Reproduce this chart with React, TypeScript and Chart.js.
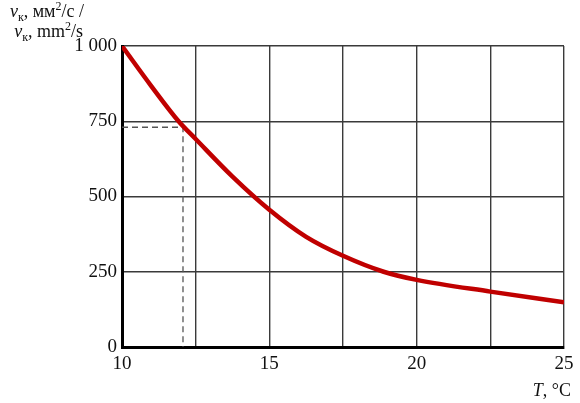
import React, { useEffect, useRef } from "react";
import { Chart, registerables } from "chart.js";

Chart.register(...registerables);

const temperatures = [10, 11, 11.92, 12.5, 13.75, 15, 16.25, 17.5, 18.88, 20, 22.5, 25];
const viscosity = [1000, 866, 750, 691, 566, 456, 366, 303, 250, 223, 184, 149];
const guideT = [10, 12.07, 12.07];
const guideV = [730, 730, 0];
const xTicks = [10, 15, 20, 25];
const yTicks = [0, 250, 500, 750, 1000];

const FONT = "'Liberation Serif', 'Times New Roman', serif";

type Run = { t: string; italic?: boolean; sub?: boolean; sup?: boolean };

function drawRuns(ctx: CanvasRenderingContext2D, runs: Run[], rightX: number, baseY: number, size: number) {
  const fontFor = (r: Run) => {
    const s = r.sub || r.sup ? Math.round(size * 0.65) : size;
    return `${r.italic ? "italic " : ""}${s}px ${FONT}`;
  };
  let total = 0;
  for (const r of runs) {
    ctx.font = fontFor(r);
    total += ctx.measureText(r.t).width;
  }
  let x = rightX - total;
  ctx.textAlign = "left";
  ctx.textBaseline = "alphabetic";
  ctx.fillStyle = "#111";
  for (const r of runs) {
    ctx.font = fontFor(r);
    const dy = r.sub ? size * 0.2 : r.sup ? -size * 0.4 : 0;
    ctx.fillText(r.t, x, baseY + dy);
    x += ctx.measureText(r.t).width;
  }
}

const labelsPlugin = {
  id: "richLabels",
  afterDraw(chart: any) {
    const ctx = chart.ctx as CanvasRenderingContext2D;
    ctx.save();
    drawRuns(ctx, [
      { t: "ν", italic: true }, { t: "к", sub: true }, { t: ", мм" }, { t: "2", sup: true }, { t: "/с /" },
    ], 84, 17, 18);
    drawRuns(ctx, [
      { t: "ν", italic: true }, { t: "к", sub: true }, { t: ", mm" }, { t: "2", sup: true }, { t: "/s" },
    ], 83, 37, 18);
    drawRuns(ctx, [{ t: "T", italic: true }, { t: ", °C" }], 571, 396, 18);
    ctx.restore();
  },
};

export default function App() {
  const ref = useRef<HTMLCanvasElement>(null);
  useEffect(() => {
    document.body.style.margin = "0";
    const chart = new Chart(ref.current!, {
      type: "line",
      data: {
        datasets: [
          {
            data: temperatures.map((t, i) => ({ x: t, y: viscosity[i] })),
            borderColor: "#c00000",
            borderWidth: 4.5,
            pointRadius: 0,
            cubicInterpolationMode: "monotone",
            order: 0,
          },
          {
            data: guideT.map((t, i) => ({ x: t, y: guideV[i] })),
            borderColor: "#555",
            borderWidth: 1.3,
            borderDash: [6, 4],
            pointRadius: 0,
            tension: 0,
            order: 1,
          },
        ],
      },
      options: {
        animation: false,
        responsive: false,
        events: [],
        layout: { padding: { top: 46, right: 16, left: 0, bottom: 0 } },
        plugins: { legend: { display: false }, tooltip: { enabled: false } },
        scales: {
          x: {
            type: "linear",
            min: 10,
            max: 25,
            afterFit: (s: any) => { s.height = 56; },
            afterBuildTicks: (s: any) => {
              s.ticks = [10, 12.5, 15, 17.5, 20, 22.5, 25].map((v) => ({ value: v }));
            },
            ticks: {
              padding: 6,
              maxRotation: 0,
              autoSkip: false,
              color: "#111",
              font: { family: FONT, size: 19 },
              callback: (v: any) => (xTicks.includes(Number(v)) ? String(v) : ""),
            },
            grid: { color: "#3a3a3a", lineWidth: 1.4, drawTicks: false },
            border: { color: "#000", width: 3 },
          },
          y: {
            min: 0,
            max: 1000,
            afterFit: (s: any) => { s.width = 122; },
            afterBuildTicks: (s: any) => {
              s.ticks = yTicks.map((v) => ({ value: v }));
            },
            ticks: {
              padding: 5,
              color: "#111",
              font: { family: FONT, size: 19 },
              callback: (v: any) => String(v).replace(/\B(?=(\d{3})+(?!\d))/g, " "),
            },
            grid: { color: "#3a3a3a", lineWidth: 1.4, drawTicks: false },
            border: { color: "#000", width: 3 },
          },
        },
      },
      plugins: [labelsPlugin],
    });
    return () => chart.destroy();
  }, []);
  return (
    <div style={{ position: "fixed", left: 0, top: 0, width: 580, height: 403, background: "#fff" }}>
      <canvas ref={ref} width={580} height={403} />
    </div>
  );
}
